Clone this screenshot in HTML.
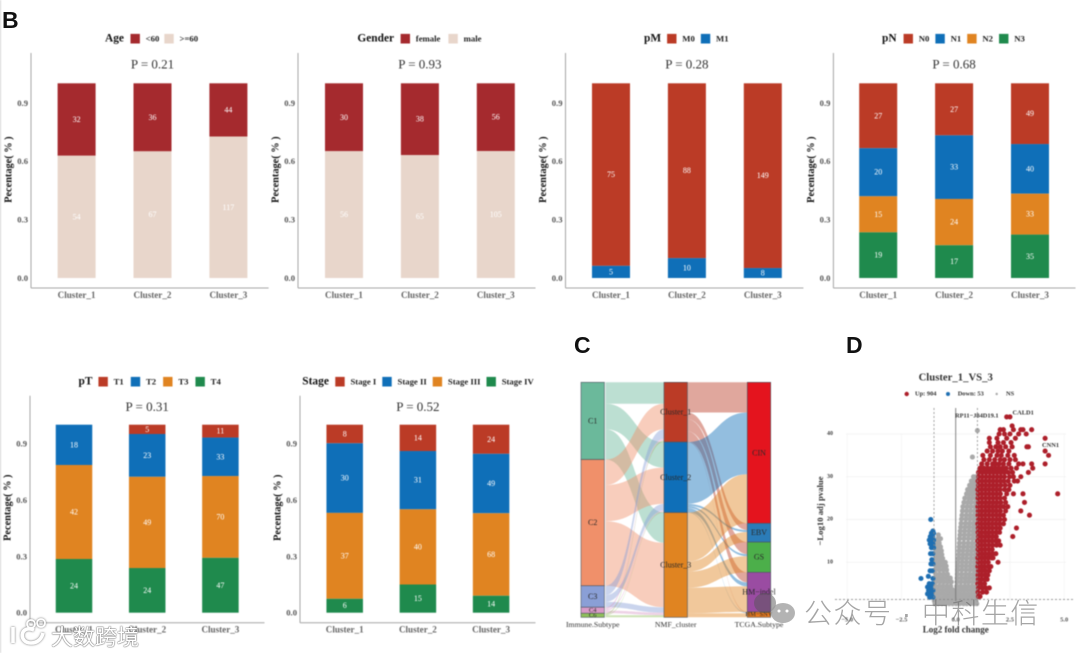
<!DOCTYPE html>
<html lang="en">
<head>
<meta charset="utf-8">
<title>Cluster clinical associations, alluvial and volcano plots</title>
<style>
html,body{margin:0;padding:0;background:#fff}
#page{position:relative;width:1080px;height:653px;overflow:hidden;background:#fff}
#figure{position:absolute;left:0;top:0;filter:blur(0.6px)}
.panel-letter{position:absolute;font-family:"Liberation Sans",sans-serif;font-weight:700;font-size:23px;line-height:23px;color:#111}
.wm-cn{position:absolute;font-family:"Liberation Sans","Noto Sans CJK SC",sans-serif;white-space:nowrap}
</style>
</head>
<body>
<div id="page">
<svg id="figure" width="1080" height="653" viewBox="0 0 1080 653" xmlns="http://www.w3.org/2000/svg"></svg>
<div class="panel-letter" style="left:2px;top:9px">B</div>
<div class="panel-letter" style="left:574px;top:334px">C</div>
<div class="panel-letter" style="left:846px;top:334px">D</div>
<svg width="1080" height="653" style="position:absolute;left:0;top:0">
  <g>
    <ellipse cx="765" cy="603" rx="11" ry="10" fill="#555" fill-opacity=".5"></ellipse>
    <ellipse cx="783" cy="613" rx="12" ry="10" fill="#999" fill-opacity=".75"></ellipse>
    <circle cx="779" cy="611" r="1.5" fill="#fff"></circle>
    <circle cx="787" cy="611" r="1.5" fill="#fff"></circle>
  </g>
  <g fill="none" stroke="#fff" stroke-width="3.6" style="filter:drop-shadow(0 0 1px #666)">
    <path d="M13 627 L13 643"></path>
    <path d="M34 630 C20 624 18 643 31 643 C38 643 42 638 43 633"></path>
    <circle cx="31" cy="624" r="4" stroke-width="1.8"></circle>
    <circle cx="41" cy="623" r="4" stroke-width="1.8"></circle>
  </g>
</svg>
<div class="wm-cn" style="left:51px;top:620px;font-size:22px;color:#fff;text-shadow:0 0 1.5px #555,0 0 1px #555">大数跨境</div>
<div class="wm-cn" style="left:804px;top:592px;font-size:28px;letter-spacing:1.5px;font-weight:300;color:rgba(110,110,110,.62)">公众号 · 中科生信</div>
</div>
<script>
/* ---------- stacked bar data ---------- */
const clusterNames = ['Cluster_1', 'Cluster_2', 'Cluster_3'];
const percentTicks = [0, 0.3, 0.6, 0.9];
const ageLevels = ['<60', '>=60'];
const ageCounts = [[32, 36, 44], [54, 67, 117]];
const genderLevels = ['female', 'male'];
const genderCounts = [[30, 38, 56], [56, 65, 105]];
const pmLevels = ['M0', 'M1'];
const pmCounts = [[75, 88, 149], [5, 10, 8]];
const pnLevels = ['N0', 'N1', 'N2', 'N3'];
const pnCounts = [[27, 27, 49], [20, 33, 40], [15, 24, 33], [19, 17, 35]];
const ptLevels = ['T1', 'T2', 'T3', 'T4'];
const ptCounts = [[0, 5, 11], [18, 23, 33], [42, 49, 70], [24, 24, 47]];
const stageLevels = ['Stage I', 'Stage II', 'Stage III', 'Stage IV'];
const stageCounts = [[8, 14, 24], [30, 31, 49], [37, 40, 68], [6, 15, 14]];

/* ---------- alluvial data ---------- */
const immuneNames = ['C1', 'C2', 'C3', 'C4', 'C6'];
const nmfNames = ['Cluster_1', 'Cluster_2', 'Cluster_3'];
const tcgaNames = ['CIN', 'EBV', 'GS', 'HM−indel', 'HM−SNV'];
const immuneToNmf = [[32, 38, 45], [38, 54, 96], [14, 10, 8], [3, 2, 4], [2, 1, 3]];
const nmfToTcga = [[45, 10, 18, 15, 1], [92, 3, 3, 6, 1], [73, 15, 24, 38, 6]];

/* ---------- volcano data: each row is [-log10 p, log2FC, log2FC, ...] ---------- */
const volcanoXTicks = [-5, -2.5, 0, 2.5, 5];
const volcanoYTicks = [10, 20, 30, 40];
const nsRows = [
[0.3,-0.95,-0.8,-0.63,-0.47,-0.3,-0.14,0.02,0.18,0.36,0.51,0.68,0.84,0.97],
[0.9,-0.98,-0.86,-0.7,-0.55,-0.38,-0.22,-0.07,0.06,0.25,0.42,0.6,0.77,0.93],
[1.7,-0.96,-0.78,-0.6,-0.44,-0.27,-0.1,0.04,0.17,0.34,0.52,0.7,0.87,0.98],
[2.6,-0.93,-0.75,-0.58,-0.41,-0.24,-0.09,0.05,0.22,0.39,0.57,0.74,0.92],
[3.5,-0.97,-0.8,-0.62,-0.45,-0.28,-0.12,0.03,0.19,0.36,0.54,0.72,0.89],
[4.4,-0.94,-0.76,-0.59,-0.41,-0.23,0.05,0.23,0.41,0.58,0.76,0.94],
[5.4,-0.91,-0.73,-0.55,-0.37,-0.2,0.06,0.24,0.43,0.6,0.78,0.96],
[6.3,-0.96,-0.78,-0.6,-0.42,-0.25,0.07,0.26,0.44,0.62,0.8,0.95],
[7.2,-0.92,-0.74,-0.56,-0.38,0.08,0.27,0.46,0.64,0.82,0.97],
[8.2,-0.95,-0.76,-0.58,-0.42,0.09,0.28,0.47,0.66,0.84,0.96],
[9.1,-0.9,-0.73,-0.55,-0.44,0.1,0.29,0.48,0.67,0.85,0.98],
[10,-0.93,-0.76,-0.6,-0.48,0.11,0.3,0.49,0.68,0.86],
[10.9,-0.91,-0.75,-0.6,0.13,0.31,0.5,0.7,0.88,0.98],
[11.8,-0.94,-0.78,-0.64,0.14,0.33,0.52,0.71,0.9],
[12.7,-0.9,-0.76,-0.66,0.15,0.34,0.54,0.73,0.91],
[13.6,-0.92,-0.78,-0.7,0.16,0.36,0.55,0.74,0.93],
[14.5,-0.9,-0.76,0.17,0.37,0.57,0.76,0.94],
[15.5,-0.82,-0.7,0.18,0.38,0.58,0.78,0.96],
[16.4,-0.8,0.2,0.4,0.6,0.79,0.97],
[17.3,0.21,0.41,0.61,0.8,0.96],
[18.2,0.23,0.43,0.62,0.81,0.98],
[19.1,0.25,0.45,0.64,0.82,0.97],
[20.1,0.27,0.47,0.66,0.84],
[21,0.29,0.49,0.67,0.85,0.98],
[22,0.31,0.5,0.68,0.86],
[23,0.33,0.52,0.7,0.88],
[24,0.38,0.56,0.72,0.9],
[25,0.42,0.6,0.76,0.92],
[26,0.5,0.66,0.8,0.94],
[27,0.55,0.7,0.84,0.96],
[28,0.64,0.78,0.9],
[29,0.72,0.86,0.96],
[30,0.82,0.94],
[34.6,0.77],
[40.8,1.0]
];
const downRows = [
[1.8,-1.05,-1.2],[2.6,-1.12,-1.3],[3.4,-1.05,-1.25],[4.2,-1.15,-1.3],[5,-1.08,-1.22],
[6.2,-1.6,-1.05],[6.7,-1.26],[8,-1.08,-1.18],[9.6,-1.05,-1.14],[10.6,-1.1],[12,-1.06,-1.16],
[13.4,-1.02,-1.12],[14.3,-1.05,-1.18],[15.2,-1.02,-1.14,-1.22],[16,-1.06,-1.17],[16.8,-1.02,-1.12],[17.3,-1.05],[20,-1.15]
];
const upRows = [
[2,1.05,1.12],
[3,1.03,1.24,1.42],
[4,1.05,1.22,1.38,1.55],
[5,1.02,1.16,1.33],
[6,1.04,1.2,1.36,1.45],
[7,1.03,1.18,1.34,1.48],
[8,1.05,1.21,1.37,1.55],
[9,1.02,1.17,1.32,1.49,1.62],
[10,1.04,1.2,1.35,1.5,1.95],
[11,1.02,1.18,1.33,1.49,1.65,1.72],
[12,1.05,1.21,1.37,1.54,1.7,1.85],
[13,1.03,1.19,1.35,1.52,1.68],
[14,1.04,1.2,1.36,1.53,1.7,1.88,2.05],
[15,1.02,1.18,1.34,1.51,1.67,1.84,1.98],
[16,1.05,1.21,1.38,1.54,1.71,1.87,2.63],
[17,1.03,1.19,1.36,1.52,1.69,1.86,2.02],
[18,1.04,1.21,1.37,1.54,1.7,1.88,2.05,2.8],
[19,1.02,1.18,1.35,1.51,1.68,1.85,2.02,2.2],
[20,1.05,1.22,1.38,1.55,1.72,1.89,2.05,2.25],
[21,1.03,1.19,1.36,1.53,1.7,1.87,2.03,2.2,3.4],
[22,1.04,1.21,1.38,1.55,1.72,1.88,2.06,2.3,3.0],
[23,1.02,1.19,1.36,1.52,1.69,1.86,2.03,2.2,2.4],
[24,1.05,1.22,1.39,1.56,1.73,1.9,2.08,2.3,3.17],
[25,1.03,1.2,1.37,1.54,1.71,1.88,2.05,2.25],
[26,1.04,1.21,1.38,1.55,1.72,1.89,2.06,2.35,2.66,3.1,4.7],
[27,1.02,1.19,1.36,1.53,1.7,1.87,2.04,2.25,2.45],
[28,1.05,1.22,1.39,1.56,1.73,1.9,2.08,2.28,2.5],
[29,1.03,1.2,1.37,1.54,1.71,1.88,2.05,2.22,2.42,2.7,2.85],
[30,1.06,1.23,1.4,1.57,1.74,1.91,2.08,2.25,2.48,2.66,3.0],
[31,1.05,1.22,1.39,1.56,1.73,1.9,2.07,2.24,2.42,2.62,3.35],
[32,1.12,1.3,1.47,1.64,1.81,1.98,2.15,2.32,2.55,2.8,3.55],
[33,1.2,1.45,1.7,1.85,2.0,2.2,2.45,2.9,3.1,3.5,4.12],
[34,1.3,1.55,1.8,2.05,2.25,2.5,2.75],
[35,1.25,1.6,1.9,2.1,2.4,2.7,4.28],
[36,1.45,1.7,1.95,2.15,2.45,4.12],
[37,1.6,1.85,2.05,2.3,2.6,3.28,3.35],
[38,1.55,1.95,2.2,2.55],
[39,1.55,1.9,2.35,2.75,4.12],
[40,2.0,2.25,2.5,3.25,2.9],
[41,2.05,2.2,2.66,3.0,3.1,3.5],
[41.9,2.6],
[44,2.35,2.5]
];

/* ---------- helpers ---------- */
const NS = 'http://www.w3.org/2000/svg';
const root = document.getElementById('figure');
const SERIF = '"Liberation Serif", serif';
function make(tag, attrs, parent) {
  const el = document.createElementNS(NS, tag);
  for (const k in attrs) el.setAttribute(k, attrs[k]);
  (parent || root).appendChild(el);
  return el;
}
function makeText(str, attrs, parent) {
  const el = make('text', Object.assign({'font-family': SERIF, 'text-anchor': 'middle', 'dominant-baseline': 'central'}, attrs), parent);
  el.textContent = str;
  return el;
}

/* ---------- stacked bar panel ---------- */
const RED = '#bb3b26', BLUE = '#0f6fb8', ORANGE = '#e08421', GREEN = '#1f8a4d';
function drawBars(cfg) {
  const g = make('g', {});
  
  
  const scaleY = v => cfg.y0 - v * (cfg.y0 - cfg.y1);
  const scaleX = i => cfg.c0 + i * cfg.step;

  const yAxis = make('line', {x1: cfg.ax, x2: cfg.ax, y1: cfg.top, y2: cfg.bottom, stroke: '#a5a5a5', 'stroke-width': 1}, g);
  
  
  const xAxis = make('line', {x1: cfg.ax, x2: cfg.right, y1: cfg.bottom, y2: cfg.bottom, stroke: '#a5a5a5', 'stroke-width': 1}, g);
  
  

  percentTicks.forEach(t => {
    const lab = makeText(t.toFixed(1), {x: cfg.ax - 3, y: scaleY(t), 'text-anchor': 'end', 'font-size': 8.6, 'font-weight': 700, fill: '#555'}, g);
    
    
  });
  const yTitleY = (cfg.y0 + cfg.y1) / 2 - 11;
  const yt = makeText('Pecentage( % )', {x: cfg.ax - 22, y: yTitleY, 'font-size': 10.3, 'font-weight': 700, fill: '#111', transform: 'rotate(-90 ' + (cfg.ax - 22) + ' ' + yTitleY + ')'}, g);
  
  

  const mid = scaleX(1);
  const p = makeText(cfg.p, {x: mid, y: cfg.top + 11, 'font-size': 13, fill: '#333'}, g);
  
  

  clusterNames.forEach((c, i) => {
    const total = cfg.counts.reduce((s, row) => s + row[i], 0);
    let cum = 0;
    cfg.counts.forEach((row, s) => {
      const v = row[i];
      if (!v) return;
      const yTop = scaleY(1 - cum / total);
      const yBot = scaleY(1 - (cum + v) / total);
      const r = make('rect', {x: scaleX(i) - cfg.bw / 2, y: yTop, width: cfg.bw, height: yBot - yTop, fill: cfg.colors[s]}, g);
      
      
      const t = makeText(String(v), {x: scaleX(i), y: (yTop + yBot) / 2, 'font-size': 8, fill: '#fff'}, g);
      
      
      cum += v;
    });
    const xl = makeText(c, {x: scaleX(i), y: cfg.bottom + 7, 'font-size': 9.1, 'font-weight': 700, fill: '#666'}, g);
    
    
  });

  const ttl = makeText(cfg.title, {x: cfg.lx, y: cfg.ly, 'text-anchor': 'start', 'font-size': 11.4, 'font-weight': 700, fill: '#111'}, g);
  
  
  let cx = cfg.lx + ttl.getComputedTextLength() + cfg.lg0;
  cfg.levels.forEach((lev, s) => {
    const sw = make('rect', {x: cx, y: cfg.ly - 4.8, width: 9.4, height: 9.6, fill: cfg.colors[s]}, g);
    
    
    const tx = makeText(lev, {x: cx + 15.2, y: cfg.ly, 'text-anchor': 'start', 'font-size': 8.7, 'font-weight': 700, fill: '#222'}, g);
    
    
    cx += 15.2 + tx.getComputedTextLength() + cfg.lg;
  });
}
const topRow = {top: 53, bottom: 288, y0: 278, y1: 83.3, step: 75.9, bw: 38, ly: 38.7};
const botRow = {top: 395.7, bottom: 622.7, y0: 612.7, y1: 424.7, step: 73.2, bw: 36.5, ly: 381.7};
drawBars(Object.assign({}, topRow, {name: 'age', title: 'Age', p: 'P = 0.21', levels: ageLevels, counts: ageCounts, colors: ['#a52a2e', '#e8d6cb'], ax: 31, right: 268.6, c0: 76.6, lx: 105, lg0: 6.5, lg: 5}));
drawBars(Object.assign({}, topRow, {name: 'gender', title: 'Gender', p: 'P = 0.93', levels: genderLevels, counts: genderCounts, colors: ['#a52a2e', '#e8d6cb'], ax: 298, right: 535.5, c0: 344, lx: 357.4, lg0: 6.5, lg: 8}));
drawBars(Object.assign({}, topRow, {name: 'pm', title: 'pM', p: 'P = 0.28', levels: pmLevels, counts: pmCounts, colors: [RED, BLUE], ax: 565.5, right: 803.4, c0: 611, lx: 644, lg0: 6, lg: 6}));
drawBars(Object.assign({}, topRow, {name: 'pn', title: 'pN', p: 'P = 0.68', levels: pnLevels, counts: pnCounts, colors: [RED, BLUE, ORANGE, GREEN], ax: 833.4, right: 1075.5, c0: 878.2, lx: 882, lg0: 7, lg: 6}));
drawBars(Object.assign({}, botRow, {name: 'pt', title: 'pT', p: 'P = 0.31', levels: ptLevels, counts: ptCounts, colors: [RED, BLUE, ORANGE, GREEN], ax: 30, right: 264.5, c0: 74, lx: 78.5, lg0: 6, lg: 7}));
drawBars(Object.assign({}, botRow, {name: 'stage', title: 'Stage', p: 'P = 0.52', levels: stageLevels, counts: stageCounts, colors: [RED, BLUE, ORANGE, GREEN], ax: 300, right: 535.5, c0: 344.7, lx: 302.3, lg0: 6.4, lg: 6}));

/* ---------- alluvial ---------- */
(function () {
  const g = make('g', {});
  
  
  const top = 382.3, colW = 23.4;
  const colX = [581, 664, 747.3];
  const total = immuneToNmf.flat().reduce((a, b) => a + b, 0);
  const unit = 235 / total;
  const immuneColors = ['#6bb99b', '#f0906a', '#8a9fd6', '#d99bc8', '#8fbf5a'];
  const nmfColors = [RED, BLUE, ORANGE];
  const tcgaColors = ['#e4141e', '#2b7cb8', '#4caf4a', '#9a4ca2', '#e87a1e'];
  const sum = a => a.reduce((x, y) => x + y, 0);

  function ribbons(matrix, colors, xa, xb, nSrc, nDst) {
    const srcTotals = matrix.map(sum);
    const dstTotals = matrix[0].map((_, j) => sum(matrix.map(r => r[j])));
    let sy = top;
    const dstCursor = [];
    let d = top;
    dstTotals.forEach((v) => { dstCursor.push(d); d += v * unit; });
    matrix.forEach((row, i) => {
      let y = sy;
      row.forEach((v, j) => {
        const h = v * unit, mx = (xa + xb) / 2, ty = dstCursor[j];
        const path = make('path', {
          d: 'M' + xa + ' ' + y + 'C' + mx + ' ' + y + ' ' + mx + ' ' + ty + ' ' + xb + ' ' + ty +
             'L' + xb + ' ' + (ty + h) + 'C' + mx + ' ' + (ty + h) + ' ' + mx + ' ' + (y + h) + ' ' + xa + ' ' + (y + h) + 'Z',
          fill: colors[i], 'fill-opacity': 0.45
        }, g);
        
        
        y += h;
        dstCursor[j] += h;
      });
      sy += srcTotals[i] * unit;
    });
  }
  ribbons(immuneToNmf, immuneColors, colX[0] + colW + 1.2, colX[1], 'immune', 'nmf');
  ribbons(nmfToTcga, nmfColors, colX[1] + colW, colX[2], 'nmf', 'tcga');

  function nodes(names, values, colors, x, label) {
    let y = top;
    names.forEach((n, i) => {
      const h = values[i] * unit;
      const r = make('rect', {x: x, y: y, width: colW, height: h, fill: colors[i], stroke: '#4d5560', 'stroke-width': 0.6}, g);
      
      
      const t = makeText(n, {x: x + colW / 2, y: y + h / 2, 'font-size': h < 8 ? 6.5 : 8, fill: '#2a2a2a'}, g);
      
      
      y += h;
    });
  }
  nodes(immuneNames, immuneToNmf.map(sum), immuneColors, colX[0], 'immune');
  nodes(nmfNames, nmfToTcga.map(sum), nmfColors, colX[1], 'nmf');
  nodes(tcgaNames, nmfToTcga[0].map((_, j) => sum(nmfToTcga.map(r => r[j]))), tcgaColors, colX[2], 'tcga');

  ['Immune.Subtype', 'NMF_cluster', 'TCGA.Subtype'].forEach((n, i) => {
    const t = makeText(n, {x: colX[i] + colW / 2, y: 624.7, 'font-size': 7.8, fill: '#333'}, g);
    
    
  });
})();

/* ---------- volcano ---------- */
(function () {
  const g = make('g', {});
  
  
  const X = v => 955.7 + v * 21.7;
  const Y = v => 605 - v * 4.275;

  volcanoYTicks.forEach(t => {
    const grid = make('line', {x1: 846, x2: 1066, y1: Y(t), y2: Y(t), stroke: '#efefef', 'stroke-width': 0.7}, g);
    
    
    const lab = makeText(String(t), {x: 833, y: Y(t), 'text-anchor': 'end', 'font-size': 6, 'font-weight': 700, fill: '#444'}, g);
    
    
  });
  volcanoXTicks.forEach(t => {
    const grid = make('line', {x1: X(t), x2: X(t), y1: 434, y2: 600, stroke: '#f3f3f3', 'stroke-width': 0.7}, g);
    
    
    const lab = makeText(t.toFixed(1).replace('-', '−'), {x: X(t), y: 620, 'font-size': 6.5, 'font-weight': 700, fill: '#555'}, g);
    
    
  });

  function drawRows(rows, color, label) {
    rows.forEach(row => {
      for (let i = 1; i < row.length; i++) {
        const c = make('circle', {cx: X(row[i]), cy: Y(row[0]), r: 2.55, fill: color}, g);
        
        
      }
    });
  }
  drawRows(nsRows, '#a9a9a9', 'not-significant');
  drawRows(downRows, '#1f6fb2', 'down-regulated');
  drawRows(upRows, '#ad1f2a', 'up-regulated');

  const v0 = make('line', {x1: X(0), x2: X(0), y1: 408, y2: 601, stroke: '#777', 'stroke-width': 0.9}, g);
  
  
  [-1, 1].forEach(v => {
    const l = make('line', {x1: X(v), x2: X(v), y1: 408, y2: 606, stroke: '#8a8a8a', 'stroke-width': 0.8, 'stroke-dasharray': '2 2'}, g);
    
    
  });
  const h = make('line', {x1: 835, x2: 1075, y1: Y(1.3), y2: Y(1.3), stroke: '#8a8a8a', 'stroke-width': 0.8, 'stroke-dasharray': '2 2'}, g);
  
  

  const title = makeText('Cluster_1_VS_3', {x: 955.7, y: 377.5, 'font-size': 10.7, 'font-weight': 700, fill: '#333'}, g);
  
  
  const yTitle = makeText('−Log10 adj pvalue', {x: 820, y: 511, 'font-size': 8.7, 'font-weight': 700, fill: '#333', transform: 'rotate(-90 820 511)'}, g);
  
  
  const xTitle = makeText('Log2 fold change', {x: 955.7, y: 629.5, 'font-size': 9, 'font-weight': 700, fill: '#333'}, g);
  
  

  const legendDots = [['Up: 904', '#ad1f2a', 906.7, 915, 2.2], ['Down: 53', '#1f6fb2', 948, 957.7, 2], ['NS', '#a9a9a9', 996.7, 1006, 1.2]];
  legendDots.forEach(d => {
    const c = make('circle', {cx: d[2], cy: 394, r: d[4], fill: d[1]}, g);
    
    
    const t = makeText(d[0], {x: d[3], y: 394, 'text-anchor': 'start', 'font-size': 6.4, 'font-weight': 700, fill: '#333'}, g);
    
    
  });

  const genes = [['RP11−J84D19.1', 955, 416], ['CALD1', 1012.5, 413], ['CNN1', 1042, 445.7]];
  genes.forEach(d => {
    const t = makeText(d[0], {x: d[1], y: d[2], 'text-anchor': 'start', 'font-size': 6.4, 'font-weight': 700, fill: '#333'}, g);
    
    
  });
})();

const edge = make('rect', {x: 0, y: 0, width: 1, height: 653, fill: '#d5d5d5'});


</script>
</body>
</html>
